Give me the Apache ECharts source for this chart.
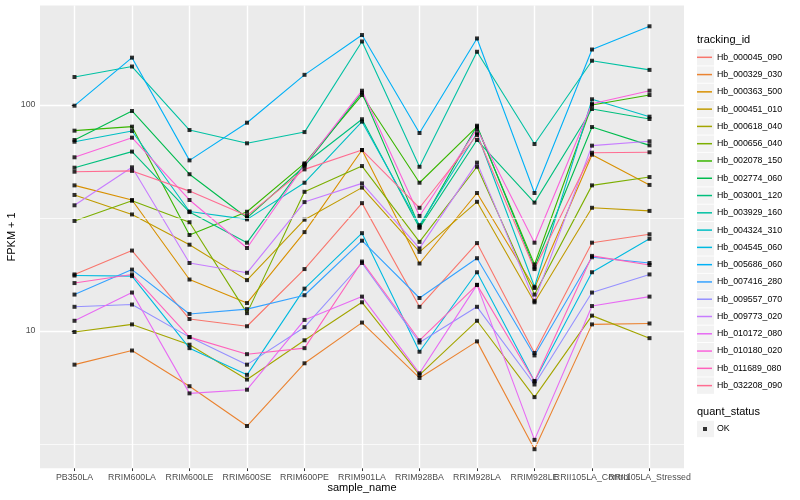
<!DOCTYPE html>
<html><head><meta charset="utf-8">
<script src="https://cdn.jsdelivr.net/npm/echarts@6/dist/echarts.min.js"></script>
<style>html,body{margin:0;padding:0;background:#fff}#c{width:800px;height:500px}</style>
</head><body><div id="c"></div>
<script>
const categories = ['PB350LA','RRIM600LA','RRIM600LE','RRIM600SE','RRIM600PE','RRIM901LA','RRIM928BA','RRIM928LA','RRIM928LE','RRII105LA_Control','RRII105LA_Stressed'];
const trackingIds = ['Hb_000045_090','Hb_000329_030','Hb_000363_500','Hb_000451_010','Hb_000618_040','Hb_000656_040','Hb_002078_150','Hb_002774_060','Hb_003001_120','Hb_003929_160','Hb_004324_310','Hb_004545_060','Hb_005686_060','Hb_007416_280','Hb_009557_070','Hb_009773_020','Hb_010172_080','Hb_010180_020','Hb_011689_080','Hb_032208_090'];
const palette = ['#F8766D','#EA8331','#D89000','#C09B00','#A3A500','#7CAE00','#39B600','#00BB4E','#00BF7D','#00C1A3','#00BFC4','#00BAE0','#00B0F6','#35A2FF','#9590FF','#C77CFF','#E76BF3','#FA62DB','#FF62BC','#FF6C91'];

const hb_000045_090 = [17.8, 22.7, 11.3, 10.5, 18.8, 36.8, 12.8, 24.5, 8.0, 24.6, 26.8];
const hb_000329_030 = [7.1, 8.2, 5.7, 3.8, 7.2, 10.9, 6.2, 9.0, 3.0, 10.7, 10.8];
const hb_000363_500 = [44.1, 38.0, 16.9, 13.3, 27.4, 63.2, 19.9, 40.8, 15.5, 60.3, 44.3];
const hb_000451_010 = [40.0, 32.8, 24.1, 16.8, 31.1, 43.1, 22.4, 37.3, 13.4, 35.1, 34.0];
const hb_000618_040 = [9.9, 10.7, 8.7, 6.1, 9.1, 13.4, 6.4, 11.1, 5.1, 11.7, 9.3];
const hb_000656_040 = [30.7, 37.7, 30.3, 12.0, 41.3, 53.7, 24.8, 53.3, 14.5, 44.1, 48.0];
const hb_002078_150 = [77.0, 80.2, 26.6, 33.7, 55.2, 110.7, 45.3, 80.2, 19.7, 100, 110.7];
const hb_002774_060 = [70.0, 94.1, 49.4, 31.7, 53.7, 113.4, 28.9, 81.0, 19.1, 79.9, 66.3];
const hb_003001_120 = [52.8, 62.2, 33.6, 24.6, 54.8, 86.5, 28.6, 70.0, 37.0, 96.0, 86.7];
const hb_003929_160 = [133, 148, 77.5, 67.7, 75.9, 191, 53.3, 172, 67.2, 157, 143];
const hb_004324_310 = [68.8, 76.7, 33.8, 31.2, 45.3, 84.4, 29.4, 75.0, 15.7, 106, 88.8];
const hb_004545_060 = [17.6, 17.5, 8.4, 6.4, 15.4, 27.1, 8.1, 18.2, 6.0, 18.2, 25.6];
const hb_005686_060 = [99.3, 162, 56.9, 83.5, 136, 204, 75.2, 197, 40.8, 176, 223];
const hb_007416_280 = [14.5, 18.7, 11.9, 12.5, 14.4, 25.1, 14.0, 21.0, 7.8, 21.2, 20.0];
const hb_009557_070 = [12.8, 13.1, 9.4, 7.1, 10.4, 20.0, 8.9, 12.8, 5.8, 14.8, 17.8];
const hb_009773_020 = [36.0, 53.0, 20.0, 18.1, 37.2, 45.0, 23.2, 55.6, 13.6, 66.1, 69.1];
const hb_010172_080 = [11.1, 14.8, 5.3, 5.5, 11.2, 14.2, 6.5, 16.0, 3.3, 12.9, 14.2];
const hb_010180_020 = [58.7, 71.7, 38.0, 23.3, 54.3, 115.7, 32.3, 78.3, 24.6, 101.3, 115.7];
const hb_011689_080 = [16.3, 17.8, 9.4, 7.9, 8.4, 20.3, 9.1, 16.0, 6.0, 21.5, 19.6];
const hb_032208_090 = [50.7, 51.1, 41.6, 32.4, 51.9, 63.2, 35.1, 73.7, 18.8, 61.5, 61.8];

const seriesValues = [hb_000045_090, hb_000329_030, hb_000363_500, hb_000451_010, hb_000618_040, hb_000656_040, hb_002078_150, hb_002774_060, hb_003001_120, hb_003929_160, hb_004324_310, hb_004545_060, hb_005686_060, hb_007416_280, hb_009557_070, hb_009773_020, hb_010172_080, hb_010180_020, hb_011689_080, hb_032208_090];

const yTicks = [10, 100];
const yMinorBreaks = [3.162, 31.62];
const yRange = [2.47, 275.6];
const quantStatus = 'OK';

const FONT = 'Liberation Sans, Arial, sans-serif';
const catIdx = categories.map((c, i) => i);
// labels split over two coincident axes so overlapping neighbours are both drawn (as in ggplot)
const labelsA = catIdx.filter(i => i % 2 === 0);
const labelsB = catIdx.filter(i => i % 2 === 1);

const lineSeries = trackingIds.map((id, i) => ({
  type: 'line', name: id,
  data: seriesValues[i].map((v, j) => [j, v]),
  showSymbol: false, symbol: 'none',
  lineStyle: { width: 1.1, color: palette[i] },
  itemStyle: { color: palette[i] },
  z: 2, silent: true, animation: false
}));

const pointData = [];
seriesValues.forEach(arr => arr.forEach((v, j) => pointData.push([j, v])));

const gridSeries = {
  type: 'line', name: '_minor', data: [], z: 1, silent: true, animation: false,
  markLine: {
    silent: true, symbol: 'none', animation: false,
    label: { show: false },
    lineStyle: { color: '#ffffff', width: 0.7, type: 'solid' },
    data: yMinorBreaks.map(v => ({ yAxis: v }))
  }
};

const legendTop = 57.3, legendStep = 17.28;
const graphics = [];
trackingIds.forEach((id, i) => {
  graphics.push({ type: 'rect', z: 1, shape: { x: 697, y: legendTop + i * legendStep - 8.2, width: 17, height: 16.4 }, style: { fill: '#F2F2F2' } });
});
graphics.push({ type: 'rect', z: 1, shape: { x: 697, y: 429 - 8.2, width: 17, height: 16.4 }, style: { fill: '#F2F2F2' } });
graphics.push({ type: 'text', z: 2, left: 697, top: 34, style: { text: 'tracking_id', font: '11px ' + FONT, fill: '#000' } });
graphics.push({ type: 'text', z: 2, left: 697, top: 406, style: { text: 'quant_status', font: '11px ' + FONT, fill: '#000' } });

const labelStyle = { hideOverlap: false, showMinLabel: true, showMaxLabel: true, fontSize: 8.8, color: '#4D4D4D', margin: 4.5, fontFamily: FONT, formatter: v => categories[Math.round(v)] };

const chart = echarts.init(document.getElementById('c'), null, { renderer: 'canvas', width: 800, height: 500 });
chart.setOption({
  animation: false,
  backgroundColor: '#ffffff',
  grid: { left: 40, right: 116, top: 5.5, bottom: 31.7, containLabel: false, outerBoundsMode: 'none', show: true, backgroundColor: '#EBEBEB', borderWidth: 0 },
  xAxis: [{
    type: 'value', min: -0.6, max: 10.6, position: 'bottom', offset: 0,
    name: 'sample_name', nameLocation: 'middle', nameGap: 14, nameMoveOverlap: false,
    nameTextStyle: { fontSize: 11, color: '#000', fontFamily: FONT },
    axisLine: { show: false },
    axisTick: { show: true, customValues: catIdx, length: 2.75, lineStyle: { color: '#333333', width: 1 } },
    axisLabel: Object.assign({ customValues: labelsA }, labelStyle),
    splitLine: { show: true, lineStyle: { color: '#ffffff', width: 1.4 } }
  }, {
    type: 'value', min: -0.6, max: 10.6, position: 'bottom', offset: 0,
    axisLine: { show: false },
    axisTick: { show: false },
    axisLabel: Object.assign({ customValues: labelsB }, labelStyle),
    splitLine: { show: false }
  }],
  yAxis: {
    type: 'log', logBase: 10, min: yRange[0], max: yRange[1],
    name: 'FPKM + 1', nameLocation: 'middle', nameGap: 23, nameRotate: 90, nameMoveOverlap: false,
    nameTextStyle: { fontSize: 11, color: '#000', fontFamily: FONT },
    axisLine: { show: false },
    axisTick: { show: true, customValues: yTicks, length: 2.75, lineStyle: { color: '#333333', width: 1 } },
    axisLabel: { customValues: yTicks, hideOverlap: false, fontSize: 8.8, color: '#4D4D4D', margin: 4.5, fontFamily: FONT },
    splitLine: { show: true, lineStyle: { color: '#ffffff', width: 1.4 } }
  },
  legend: [{
    orient: 'vertical', left: 697, top: legendTop - 8.5, padding: 0, itemGap: 0.28,
    itemWidth: 15, itemHeight: 1.5, icon: 'rect', selectedMode: false,
    data: trackingIds.map((id, i) => ({ name: id, itemStyle: { color: palette[i] } })),
    textStyle: { fontSize: 8.8, color: '#000', lineHeight: 17, fontFamily: FONT }
  }, {
    orient: 'vertical', left: 703, top: 423, padding: 0,
    itemWidth: 4, itemHeight: 4, icon: 'rect', selectedMode: false,
    data: [{ name: quantStatus, itemStyle: { color: '#000' } }],
    textStyle: { fontSize: 8.8, color: '#000', lineHeight: 12, fontFamily: FONT, padding: [0, 0, 0, 5] }
  }],
  graphic: graphics,
  series: [gridSeries, ...lineSeries, {
    type: 'scatter', name: quantStatus, data: pointData,
    symbol: 'rect', symbolSize: 4, itemStyle: { color: '#000' }, z: 3, silent: true, animation: false
  }]
});
</script></body></html>
